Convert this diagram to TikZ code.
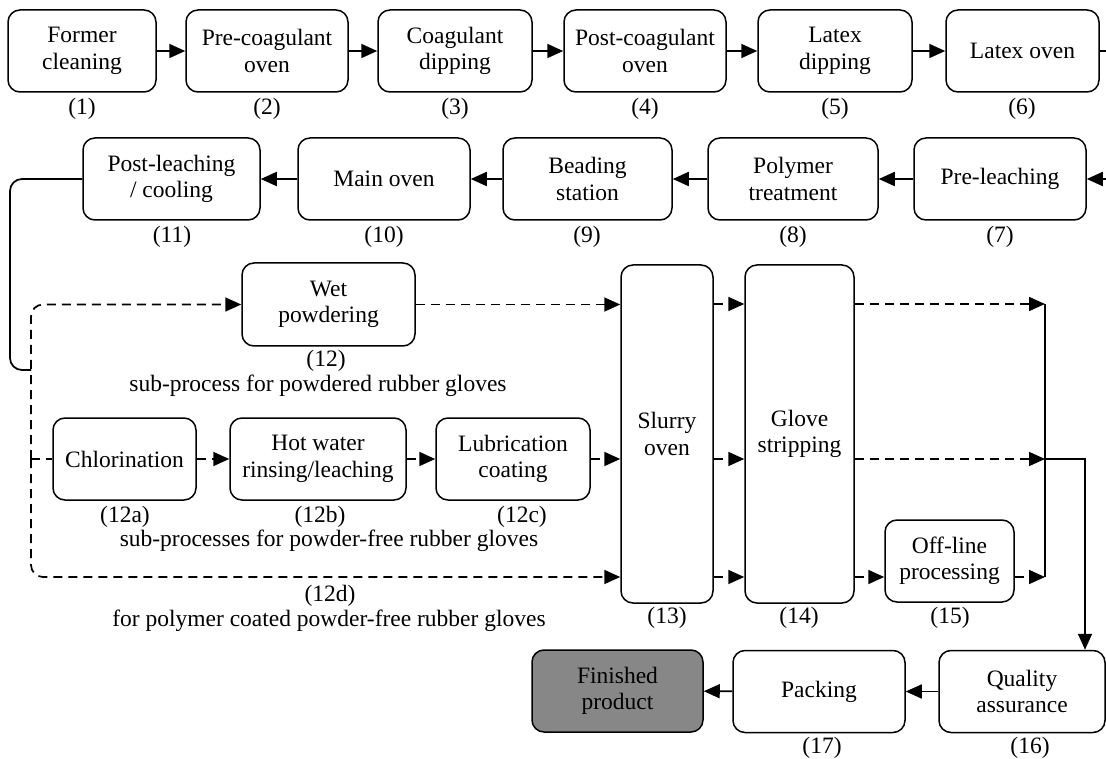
\documentclass[tikz,border=0pt]{standalone}
\usepackage{fontspec}
\setmainfont{Liberation Serif}
\usetikzlibrary{arrows.meta,calc}
\begin{document}
\begin{tikzpicture}[x=1pt,y=-1pt,
  box/.style={draw, line width=1.5pt, rounded corners=12pt, align=center, inner sep=0pt,
    font=\fontsize{23.5}{26.5}\selectfont, minimum height=82pt},
  lbl/.style={font=\fontsize{23.5}{26.5}\selectfont, inner sep=0pt},
  ln/.style={line width=1.7pt},
  dl/.style={line width=1.7pt, dash pattern=on 9pt off 6pt},
  arr/.style={-{Triangle[length=16pt,width=14pt]}}
]
\useasboundingbox (0,0) rectangle (1106,759);
% row 1
\node[box, minimum width=148pt] (n1) at (82,51) {Former\\cleaning};
\node[box, minimum width=162pt] (n2) at (267,51) {Pre-coagulant\\oven};
\node[box, minimum width=154pt] (n3) at (455,51) {Coagulant\\dipping};
\node[box, minimum width=162pt] (n4) at (645,51) {Post-coagulant\\oven};
\node[box, minimum width=154pt] (n5) at (835,51) {Latex\\dipping};
\node[box, minimum width=153pt] (n6) at (1022.5,51) {Latex oven};
\node[lbl] (l1) at (82,109) {(1)};
\node[lbl] (l2) at (267,109) {(2)};
\node[lbl] (l3) at (455,109) {(3)};
\node[lbl] (l4) at (645,109) {(4)};
\node[lbl] (l5) at (835,109) {(5)};
\node[lbl] (l6) at (1022,109) {(6)};
% row 2
\node[box, minimum width=172pt] (n7) at (1000,179) {Pre-leaching};
\node[box, minimum width=170pt] (n8) at (793,179) {Polymer\\treatment};
\node[box, minimum width=169pt] (n9) at (587.5,179) {Beading\\station};
\node[box, minimum width=172pt] (n10) at (384,179) {Main oven};
\node[box, minimum width=177pt] (n11) at (171.5,179) {Post-leaching\\/ cooling};
\node[lbl] (l7) at (1000,237) {(7)};
\node[lbl] (l8) at (793,237) {(8)};
\node[lbl] (l9) at (587,237) {(9)};
\node[lbl] (l10) at (384,237) {(10)};
\node[lbl] (l11) at (172,237) {(11)};
% middle
\node[box, minimum width=173pt, minimum height=83pt] (wet) at (328.5,304.5) {Wet\\powdering};
\node[lbl] (l12) at (326,361) {(12)};
\node[lbl] (t12) at (318,386) {sub-process for powdered rubber gloves};
\node[box, minimum width=143pt] (chl) at (124.5,459) {Chlorination};
\node[box, minimum width=176pt] (hot) at (318,459) {Hot water\\rinsing/leaching};
\node[box, minimum width=154pt] (lub) at (513,459) {Lubrication\\coating};
\node[lbl] (l12a) at (125,517) {(12a)};
\node[lbl] (l12b) at (320,517) {(12b)};
\node[lbl] (l12c) at (522,517) {(12c)};
\node[lbl] (t12b) at (329,541) {sub-processes for powder-free rubber gloves};
\node[lbl] (l12d) at (330,596) {(12d)};
\node[lbl] (t12d) at (329,621) {for polymer coated powder-free rubber gloves};
\node[box, minimum width=92pt, minimum height=338pt] (slurry) at (667,434) {Slurry\\oven};
\node[box, minimum width=109pt, minimum height=338pt] (glove) at (799.5,434) {Glove\\stripping};
\node[box, minimum width=129pt] (off) at (949.5,561) {Off-line\\processing};
\node[lbl] (l13) at (667,618) {(13)};
\node[lbl] (l14) at (799,618) {(14)};
\node[lbl] (l15) at (950,618) {(15)};
% bottom
\node[box, minimum width=166pt] (qa) at (1022,691.5) {Quality\\assurance};
\node[box, minimum width=172pt] (pack) at (819,691.5) {Packing};
\node[box, minimum width=171pt, fill=black!47] (fin) at (617.5,691) {Finished\\product};
\node[lbl] (l16) at (1030,748) {(16)};
\node[lbl] (l17) at (822,748) {(17)};
% helper coordinates
\coordinate (yt) at (0,304);
\coordinate (ym) at (0,459);
\coordinate (yb) at (0,577);
\coordinate (rx) at (1045,0);
\coordinate (qx) at (1085,0);
\coordinate (e1) at (1106,51);
\coordinate (e2) at (1106,179);
\coordinate (sc) at (10,370);
\coordinate (sj) at (31,370);
\coordinate (L) at (31,459);
% row 1 connectors
\draw[ln,arr] (n1) -- (n2);
\draw[ln,arr] (n2) -- (n3);
\draw[ln,arr] (n3) -- (n4);
\draw[ln,arr] (n4) -- (n5);
\draw[ln,arr] (n5) -- (n6);
\draw[ln] (n6.east) -- (e1);
\draw[ln,arr] (e2) -- (n7.east);
\draw[ln,arr] (n7) -- (n8);
\draw[ln,arr] (n8) -- (n9);
\draw[ln,arr] (n9) -- (n10);
\draw[ln,arr] (n10) -- (n11);
\draw[ln,rounded corners=12pt] (n11.west) -| (sc) -- (sj);
% dashed branches
\draw[dl,arr,rounded corners=12pt] (L) |- (wet.west);
\draw[dl,arr,rounded corners=12pt] (L) |- (slurry.west |- yb);
\draw[dl] (L) -- (chl.west);
\draw[dl,arr] (wet.east) -- (slurry.west |- wet.east);
\draw[dl,arr] (chl) -- (hot);
\draw[dl,arr] (hot) -- (lub);
\draw[dl,arr] (lub.east) -- (slurry.west |- lub.east);
\draw[dl,arr] (slurry.east |- yt) -- (glove.west |- yt);
\draw[dl,arr] (slurry.east |- ym) -- (glove.west |- ym);
\draw[dl,arr] (slurry.east |- yb) -- (glove.west |- yb);
\draw[dl,arr] (glove.east |- yt) -- (rx |- yt);
\draw[dl,arr] (glove.east |- ym) -- (rx |- ym);
\draw[dl,arr] (glove.east |- yb) -- (off.west |- yb);
\draw[dl,arr] (off.east |- yb) -- (rx |- yb);
\draw[ln] (rx |- yt) -- (rx |- yb);
\draw[ln,arr] (rx |- ym) -| (qa.north -| qx);
% bottom row
\draw[ln,arr] (qa) -- (pack);
\draw[ln,arr] (pack) -- (fin);
\end{tikzpicture}
\end{document}
